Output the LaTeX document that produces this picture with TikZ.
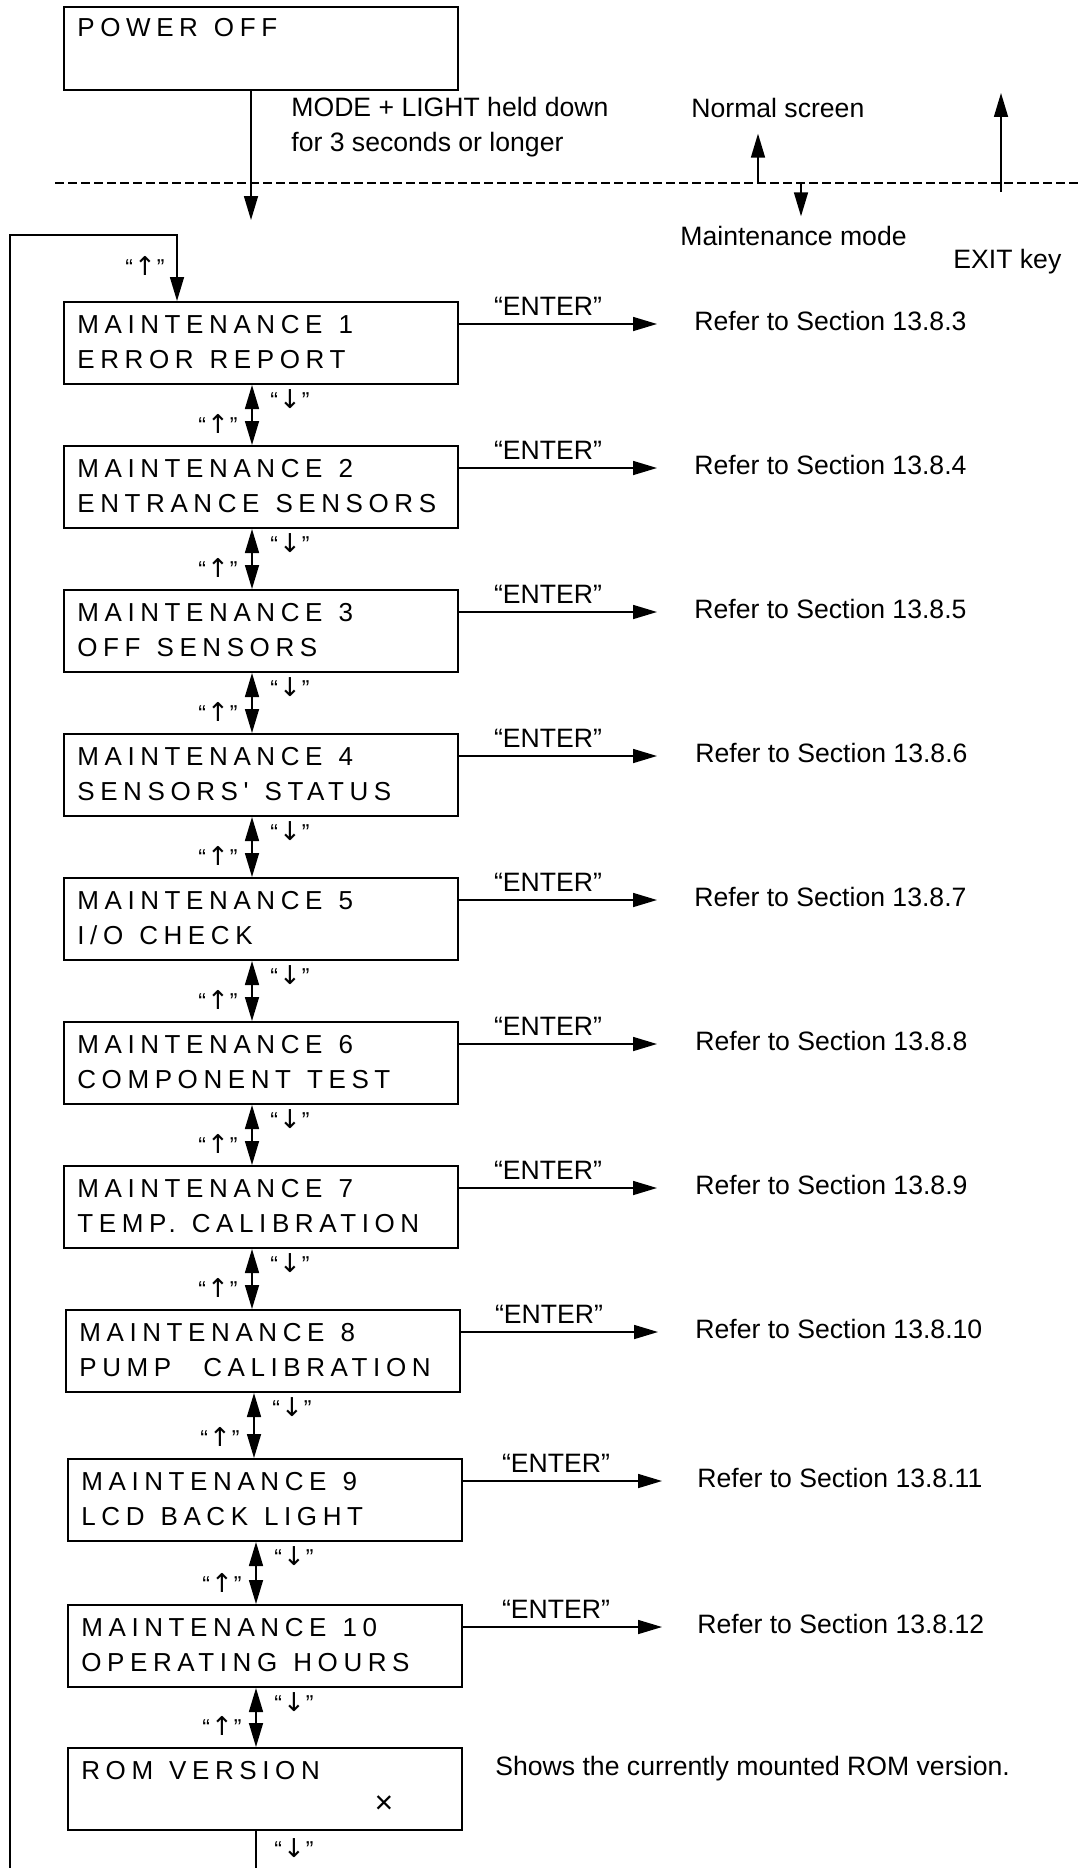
\documentclass[tikz,border=0pt]{standalone}
\usepackage{fontspec}
\setmainfont{Liberation Sans}
\newfontfamily\lcdfont[LetterSpace=21.5]{Liberation Sans}
\newfontfamily\arrfont{DejaVu Sans}
\usetikzlibrary{arrows.meta,calc}

\newcommand\qarr[1]{{\fontsize{11.5}{12}\selectfont “}\hspace{0.5pt}{\arrfont\fontsize{13}{14}\selectfont #1}\hspace{0.5pt}{\fontsize{11.5}{12}\selectfont ”}}
\newcommand\lcdsel{\lcdfont\fontsize{13}{15}\selectfont\spaceskip 8pt\relax}

\tikzset{
  boxst/.style={draw, line width=1pt, minimum width=197pt, minimum height=41pt, inner sep=0pt},
  lcdtext/.style={inner sep=0pt, font=\lcdsel},
  lab/.style={inner sep=0pt, font=\fontsize{13.3}{16}\selectfont},
  keylab/.style={inner sep=0pt},
  conn/.style={line width=0.8pt},
  arrowst/.style={conn, -{Triangle[length=12pt,width=7pt]}},
  dblarrow/.style={conn, {Triangle[length=12pt,width=7pt]}-{Triangle[length=12pt,width=7pt]}},
  dashst/.style={line width=0.9pt, dash pattern=on 4.5pt off 2pt},
}

% name, left, top, line1, line2
\newcommand\lcdbox[5]{%
  \node[boxst, anchor=north west] (#1) at (#2,#3) {};
  \node[lcdtext, anchor=base west] (#1a) at ($(#1.north west)+(14,32)$) {#4};
  \node[lcdtext, anchor=base west] (#1b) at ($(#1.north west)+(14,67)$) {#5};
}
% name, top, enter-label x, refer x, tip x, refer text
\newcommand\enterarrow[6]{%
  \coordinate (#1e) at ($(#1.north east)+(0,23)$);
  \node[lab, anchor=base west] (#1r) at (#4,#2+29) {#6};
  \node[lab, anchor=base] (#1n) at (#3,#2+14) {“ENTER”};
  \pgfmathsetmacro\shval{(#4-#5)*0.5}
  \draw[arrowst, shorten >=\shval pt] (#1e) -- (#1e -| #1r.west);
}
% upper box, lower box, x offset
\newcommand\updown[3]{%
  \coordinate (#1d) at ($(#1.south west)+(#3,0)$);
  \draw[dblarrow] (#1d) -- (#1d |- #2.north);
  \node[keylab] (#1dl) at ($(#1d)+(38,14)$) {\qarr{↓}};
  \node[keylab] (#1ul) at ($(#1d |- #2.north)+(-34,-21)$) {\qarr{↑}};
}

\begin{document}
\begin{tikzpicture}[x=0.5pt,y=-0.5pt]
\useasboundingbox (0,0) rectangle (1081,1868);

% POWER OFF
\node[boxst, anchor=north west, minimum height=41.5pt] (po) at (63,6) {};
\node[lcdtext, anchor=base west] (poa) at ($(po.north west)+(14,31)$) {POWER OFF};
\coordinate (pod) at ($(po.south west)+(188,0)$);
\coordinate (potip) at (251,220);
\draw[arrowst] (pod) -- (potip);

\node[lab, anchor=base west] (md1) at (291,117) {MODE + LIGHT held down};
\node[lab, anchor=base west] (md2) at (291,151) {for 3 seconds or longer};

% dashed boundary
\coordinate (dl) at (55,183);
\coordinate (dr) at (1081,183);
\draw[dashst] (dl) -- (dr);

\node[lab, anchor=base west] (ns) at (691,118) {Normal screen};
\coordinate (nsf) at (758,183);
\draw[arrowst, shorten >=7.5pt] (nsf) -- (nsf |- ns.south);

\node[lab, anchor=base west] (mm) at (680,245) {Maintenance mode};
\coordinate (mmf) at (801,183);
\draw[arrowst, shorten >=4.5pt] (mmf) -- (mmf |- mm.north);

\node[lab, anchor=base west] (ek) at (953,268) {EXIT key};
\coordinate (ex1) at (1001,192);
\coordinate (ex2) at (1001,93);
\draw[arrowst] (ex1) -- (ex2);

% maintenance boxes
\lcdbox{m1}{63}{301}{MAINTENANCE 1}{ERROR REPORT}
\lcdbox{m2}{63}{445}{MAINTENANCE 2}{ENTRANCE SENSORS}
\lcdbox{m3}{63}{589}{MAINTENANCE 3}{OFF SENSORS}
\lcdbox{m4}{63}{733}{MAINTENANCE 4}{SENSORS' STATUS}
\lcdbox{m5}{63}{877}{MAINTENANCE 5}{I/O CHECK}
\lcdbox{m6}{63}{1021}{MAINTENANCE 6}{COMPONENT TEST}
\lcdbox{m7}{63}{1165}{MAINTENANCE 7}{TEMP. CALIBRATION}
\lcdbox{m8}{65}{1309}{MAINTENANCE 8}{PUMP\ \ CALIBRATION}
\lcdbox{m9}{67}{1458}{MAINTENANCE 9}{LCD BACK LIGHT}
\lcdbox{m10}{67}{1604}{MAINTENANCE 10}{OPERATING HOURS}

% ROM version
\node[boxst, anchor=north west] (rom) at (67,1747) {};
\node[lcdtext, anchor=base west] (roma) at ($(rom.north west)+(14,32)$) {ROM VERSION};
\node[inner sep=0pt, font=\fontsize{16}{18}\selectfont] (romx) at (384,1805) {×};
\node[lab, anchor=base west] (romr) at (495,1775) {Shows the currently mounted ROM version.};

% ENTER arrows
\enterarrow{m1}{301}{548}{694}{657}{Refer to Section 13.8.3}
\enterarrow{m2}{445}{548}{694}{657}{Refer to Section 13.8.4}
\enterarrow{m3}{589}{548}{694}{657}{Refer to Section 13.8.5}
\enterarrow{m4}{733}{548}{695}{657}{Refer to Section 13.8.6}
\enterarrow{m5}{877}{548}{694}{657}{Refer to Section 13.8.7}
\enterarrow{m6}{1021}{548}{695}{657}{Refer to Section 13.8.8}
\enterarrow{m7}{1165}{548}{695}{657}{Refer to Section 13.8.9}
\enterarrow{m8}{1309}{549}{695}{658}{Refer to Section 13.8.10}
\enterarrow{m9}{1458}{556}{697}{662}{Refer to Section 13.8.11}
\enterarrow{m10}{1604}{556}{697}{662}{Refer to Section 13.8.12}

% up/down arrows
\updown{m1}{m2}{189}
\updown{m2}{m3}{189}
\updown{m3}{m4}{189}
\updown{m4}{m5}{189}
\updown{m5}{m6}{189}
\updown{m6}{m7}{189}
\updown{m7}{m8}{189}
\updown{m8}{m9}{189}
\updown{m9}{m10}{189}
\updown{m10}{rom}{189}

% loop back from the bottom to MAINTENANCE 1
\coordinate (lb) at (10,1868);
\coordinate (lt) at (177,235);
\draw[arrowst] (lb) |- (lt) -- (lt |- m1.north);
\node[keylab] (toplab) at (145,266) {\qarr{↑}};

% down from ROM VERSION
\coordinate (rd) at ($(rom.south west)+(189,0)$);
\coordinate (rb) at (rd |- lb);
\draw[conn] (rd) -- (rb);
\node[keylab] (romdl) at ($(rd)+(38,17)$) {\qarr{↓}};
\end{tikzpicture}
\end{document}
